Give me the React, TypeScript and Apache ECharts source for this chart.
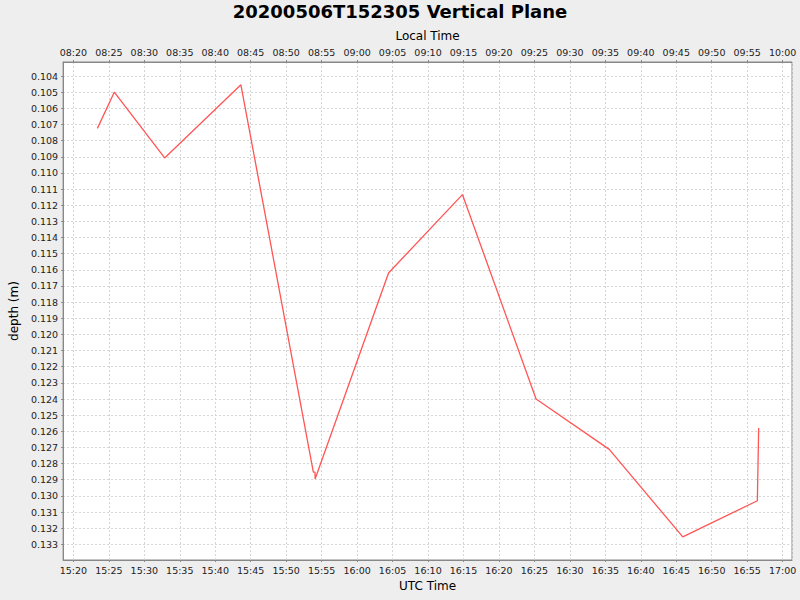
import React, { useEffect, useRef } from "react";
import * as echarts from "echarts";

// Sample times (UTC, 2020-05-06) and depths (m)
const utcTimes: string[] = [
  "15:23:23", "15:25:46", "15:32:52", "15:43:37", "15:53:50", "15:54:04",
  "15:54:05", "16:04:26", "16:14:51", "16:25:14", "16:35:33", "16:45:55",
  "16:56:26", "16:56:37",
];
const depths: number[] = [
  0.10724, 0.105, 0.10907, 0.10454, 0.12853, 0.12853,
  0.12895, 0.1162, 0.11134, 0.124, 0.12712, 0.13254,
  0.1303, 0.1258,
];

const AXIS_X_MIN = "15:18:33";
const AXIS_X_MAX = "17:01:19";
const AXIS_Y_MIN = 0.10313;
const AXIS_Y_MAX = 0.13397;
const LOCAL_OFFSET_HOURS = -7;

const toMs = (t: string) => {
  const [h, m, s] = t.split(":").map(Number);
  return Date.UTC(2020, 4, 6, h, m, s);
};
const pad = (n: number) => (n < 10 ? "0" + n : "" + n);
const fmt = (ms: number, offH: number) => {
  const d = new Date(ms + offH * 3600000);
  return pad(d.getUTCHours()) + ":" + pad(d.getUTCMinutes());
};

const FONT = "DejaVu Sans";
const LABEL_COLOR = "#222";

export default function App() {
  const ref = useRef<HTMLDivElement>(null);
  useEffect(() => {
    if (!ref.current) return;
    const chart = echarts.init(ref.current, null, { renderer: "svg" });
    const xMin = toMs(AXIS_X_MIN);
    const xMax = toMs(AXIS_X_MAX);
    const axisCommon = {
      type: "value" as const,
      min: xMin,
      max: xMax,
      minInterval: 300000,
      maxInterval: 300000,
      splitNumber: 20,
      nameLocation: "middle" as const,
      nameTextStyle: { fontFamily: FONT, fontSize: 12, color: "#000" },
      axisLine: { show: true, lineStyle: { color: "#888", width: 1 } },
      axisTick: { show: true, length: 2, lineStyle: { color: "#888" } },
    };
    chart.setOption({
      animation: false,
      backgroundColor: "#eeeeee",
      textStyle: { fontFamily: FONT },
      title: {
        text: "20200506T152305 Vertical Plane",
        left: "center",
        top: -3,
        textStyle: { fontFamily: FONT, fontSize: 18, fontWeight: "bold", color: "#000" },
      },
      grid: {
        left: 62,
        right: 8,
        top: 62,
        bottom: 40,
        show: true,
        backgroundColor: "#ffffff",
        borderColor: "#888",
        borderWidth: 1,
      },
      xAxis: [
        {
          ...axisCommon,
          position: "bottom",
          name: "UTC Time",
          nameGap: 20,
          axisLabel: {
            interval: 0,
            showMinLabel: false,
            showMaxLabel: false,
            margin: 5,
            fontFamily: FONT,
            fontSize: 9.5,
            color: LABEL_COLOR,
            formatter: (v: number) => fmt(v, 0),
          },
          splitLine: { show: true, lineStyle: { color: "#d4d4d4", type: [2, 2], width: 1 } },
        },
        {
          ...axisCommon,
          position: "top",
          name: "Local Time",
          nameGap: 19,
          axisLabel: {
            interval: 0,
            showMinLabel: false,
            showMaxLabel: false,
            margin: 5,
            fontFamily: FONT,
            fontSize: 9.5,
            color: LABEL_COLOR,
            formatter: (v: number) => fmt(v, LOCAL_OFFSET_HOURS),
          },
          splitLine: { show: false },
        },
      ],
      yAxis: {
        type: "value",
        inverse: true,
        min: AXIS_Y_MIN,
        max: AXIS_Y_MAX,
        minInterval: 0.001,
        maxInterval: 0.001,
        splitNumber: 31,
        name: "depth (m)",
        nameLocation: "middle",
        nameGap: 37,
        nameTextStyle: { fontFamily: FONT, fontSize: 12, color: "#000" },
        axisLine: { show: true, lineStyle: { color: "#888", width: 1 } },
        axisTick: { show: true, length: 2, lineStyle: { color: "#888" } },
        axisLabel: {
          interval: 0,
          showMinLabel: false,
          showMaxLabel: false,
          margin: 5,
          fontFamily: FONT,
          fontSize: 9.5,
          color: LABEL_COLOR,
          formatter: (v: number) => v.toFixed(3),
        },
        splitLine: { show: true, lineStyle: { color: "#d4d4d4", type: [2, 2], width: 1 } },
      },
      series: [
        {
          type: "line",
          xAxisIndex: 0,
          data: utcTimes.map((t, i) => [toMs(t), depths[i]]),
          showSymbol: false,
          symbol: "none",
          lineStyle: { color: "#ff5555", width: 1.3 },
          itemStyle: { color: "#ff5555" },
        },
      ],
    });
    return () => chart.dispose();
  }, []);
  return (
    <div
      ref={ref}
      style={{ position: "absolute", left: 0, top: 0, width: 800, height: 600 }}
    />
  );
}
